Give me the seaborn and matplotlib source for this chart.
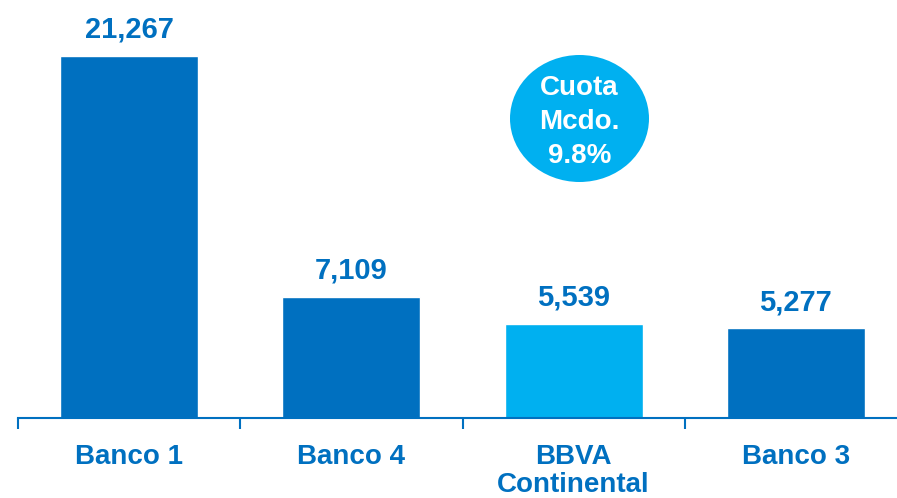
import numpy as np
import pandas as pd
import matplotlib
matplotlib.use("Agg")
import matplotlib.pyplot as plt
from matplotlib.patches import Ellipse
import seaborn as sns

# data
bancos = ["Banco 1", "Banco 4", "BBVA\nContinental", "Banco 3"]
creditos = [21267, 7109, 5539, 5277]
etiquetas = ["21,267", "7,109", "5,539", "5,277"]
colores = ["#0070C0", "#0070C0", "#00B0F0", "#0070C0"]
cuota_texto = "Cuota\nMcdo.\n9.8%"

azul = "#0070C0"
celeste = "#00B0F0"

sns.set_style("white")
plt.rcParams['font.family'] = ['Liberation Sans', 'DejaVu Sans']

df = pd.DataFrame({"banco": bancos, "valor": creditos})

fig = plt.figure(figsize=(8.97, 4.98), dpi=100)
ax = fig.add_axes([18 / 897, 80 / 498, 889 / 897, 418 / 498])

sns.barplot(data=df, x="banco", y="valor", hue="banco", palette=colores,
            width=0.62, legend=False, ax=ax, saturation=1)

ax.set_ylim(0, 24560)
ax.set_xlim(-0.5, 3.5)

# value labels above the bars
for i, (v, t) in enumerate(zip(creditos, etiquetas)):
    ax.annotate(t, xy=(i, v), xytext=(0, 13), textcoords="offset points",
                ha="center", va="baseline", fontsize=21, fontweight="bold",
                color=azul)

# axes styling
for s in ["top", "right", "left"]:
    ax.spines[s].set_visible(False)
ax.spines["bottom"].set_color(azul)
ax.spines["bottom"].set_linewidth(1.5)
ax.set_yticks([])
ax.set_xlabel("")
ax.set_ylabel("")
ax.set_xticks(range(4))
ax.set_xticklabels(bancos, fontsize=20, fontweight="bold", color=azul,
                   linespacing=1.12)
ax.tick_params(axis="x", which="major", length=0, pad=18.5)
ax.set_xticks(np.arange(-0.5, 4.0, 1.0), minor=True)
ax.tick_params(axis="x", which="minor", bottom=True, length=8, width=1.5,
               color=azul, direction="out")

# market share bubble
ell = Ellipse((579.5 / 897, 1 - 118.5 / 498), 139 / 897, 127 / 498,
              transform=fig.transFigure, facecolor=celeste, edgecolor="none")
fig.patches.append(ell)
fig.text(579.5 / 897, 1 - 122 / 498, cuota_texto, ha="center", va="center",
         fontsize=20, fontweight="bold", color="white", linespacing=1.38)

fig.savefig("out.png", dpi=100)
